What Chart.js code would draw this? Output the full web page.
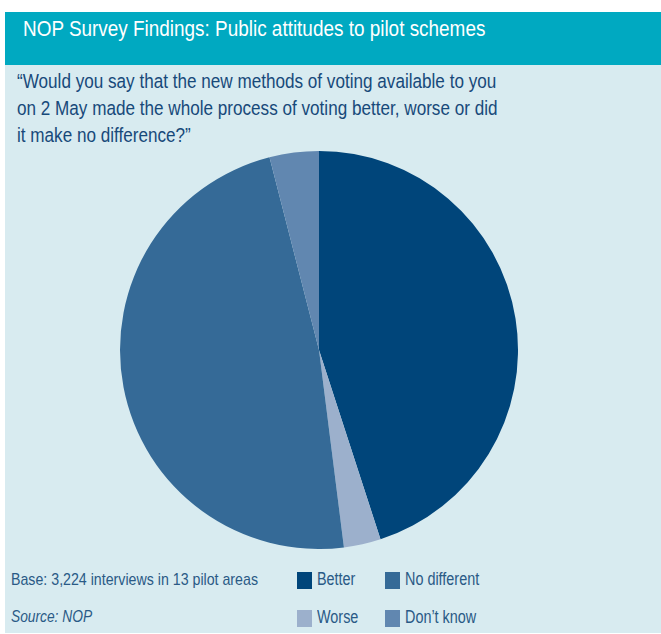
<!DOCTYPE html>
<html>
<head>
<meta charset="utf-8">
<script src="https://cdn.jsdelivr.net/npm/chart.js@4"></script>
<style>
  body { margin: 0; background: #fff; width: 661px; height: 634px; overflow: hidden; font-family: "Liberation Sans", Arial, sans-serif; }
  .narrow { transform: scaleX(0.86); transform-origin: 0 0; }
  #header { position: absolute; left: 5px; top: 12px; width: 656px; height: 53px; background: #00a9c1; }
  #header span { position: absolute; left: 18px; top: 4px; color: #fff; font-size: 22px; white-space: nowrap; }
  #panel { position: absolute; left: 5px; top: 65px; width: 656px; height: 568px; background: #d8ebf0; }
  #question { position: absolute; left: 12px; top: 2px; color: #17497a; font-size: 20.5px; line-height: 27px; white-space: nowrap; transform: scaleX(0.835); }
  #chartBox { position: absolute; left: 115px; top: 86px; width: 398px; height: 398px; }
  #base { position: absolute; left: 6px; top: 505px; color: #2a5a86; font-size: 17px; white-space: nowrap; transform: scaleX(0.835); }
  #source { position: absolute; left: 6px; top: 543px; color: #2a5a86; font-size: 16px; font-style: italic; white-space: nowrap; }
  .leg { position: absolute; color: #2a5a86; font-size: 18px; white-space: nowrap; }
  .leg i { position: absolute; left: 0; top: 2px; width: 15px; height: 17px; }
  .leg span { position: absolute; left: 20px; top: -1px; transform: scaleX(0.8); }
</style>
</head>
<body>
<div id="header"><span class="narrow">NOP Survey Findings: Public attitudes to pilot schemes</span></div>
<div id="panel">
  <div id="question" class="narrow">“Would you say that the new methods of voting available to you<br>on 2 May made the whole process of voting better, worse or did<br>it make no difference?”</div>
  <div id="chartBox"><canvas id="pieChart" width="398" height="398"></canvas></div>
  <div id="base" class="narrow">Base: 3,224 interviews in 13 pilot areas</div>
  <div id="source" class="narrow">Source: NOP</div>
  <div id="legend"></div>
</div>
<script>
// بيانات المخطط
const labels = ['Better', 'Worse', 'No different', 'Don\u2019t know'];
const values = [45, 3, 48, 4];
const colors = ['#00457a', '#9cb0cc', '#356a97', '#6187b0'];

// ترتيب وسيلة الإيضاح
const legendOrder = [0, 2, 1, 3];

function buildLegend() {
    const box = document.getElementById('legend');
    legendOrder.forEach(function(idx, n) {
        const col = n % 2, row = Math.floor(n / 2);
        const el = document.createElement('div');
        el.className = 'leg';
        el.style.left = (292 + col * 88) + 'px';
        el.style.top = (505 + row * 38) + 'px';
        el.innerHTML = '<i style="background:' + colors[idx] + '"></i><span class="narrow">' + labels[idx] + '</span>';
        box.appendChild(el);
    });
}

document.addEventListener('DOMContentLoaded', function() {
    const ctx = document.getElementById('pieChart').getContext('2d');
    new Chart(ctx, {
        type: 'pie',
        data: {
            labels: labels,
            datasets: [{
                data: values,
                backgroundColor: colors,
                borderWidth: 0
            }]
        },
        options: {
            responsive: false,
            animation: false,
            layout: { padding: 0 },
            plugins: {
                legend: { display: false },
                tooltip: { enabled: false }
            }
        }
    });
    buildLegend();
});
</script>
</body>
</html>
